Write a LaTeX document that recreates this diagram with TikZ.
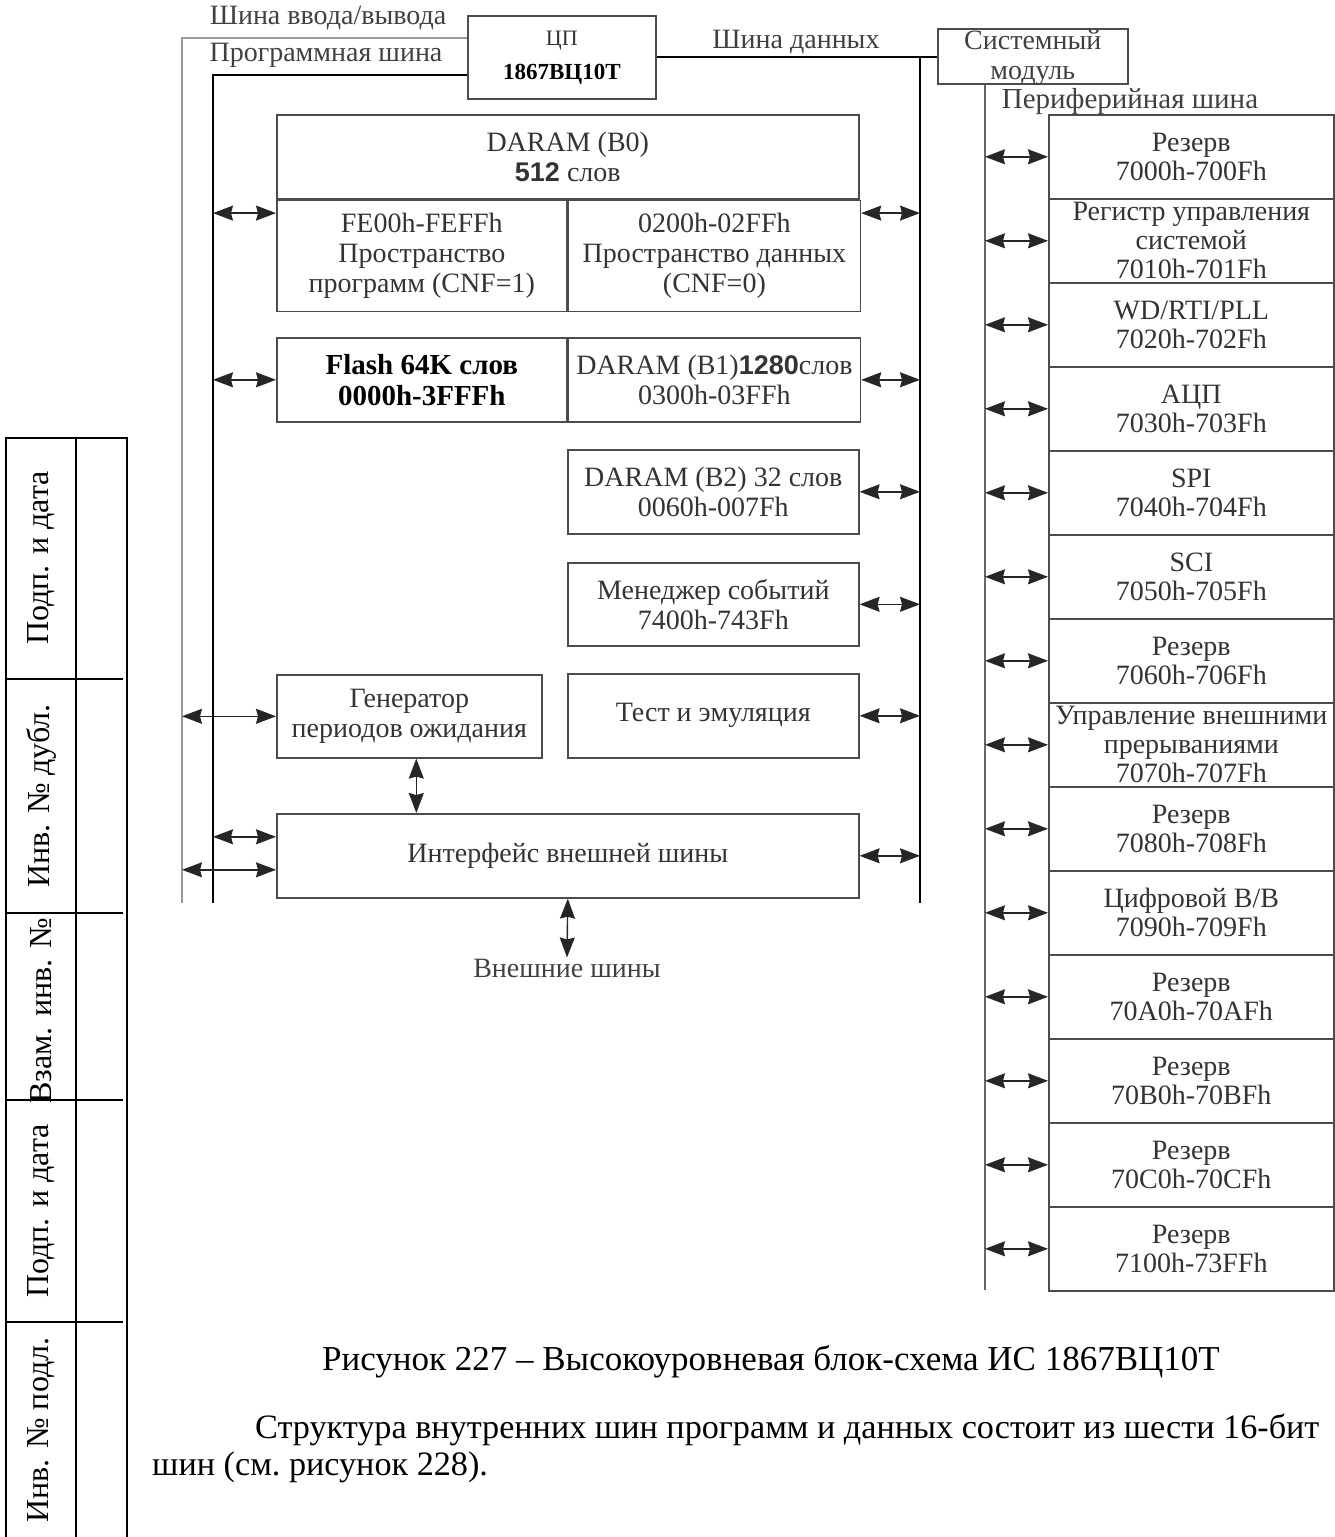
\documentclass[tikz,border=0pt]{standalone}
\usepackage{fontspec}
\setmainfont{Liberation Serif}
\newfontfamily\numfont{Liberation Sans}
\usetikzlibrary{arrows.meta,calc}

\newcommand\dg{\fontsize{28}{30}\selectfont}
\newcommand\wnum[1]{{\numfont\bfseries\fontsize{27}{30}\selectfont #1}}

\tikzset{
  blk/.style={draw=black!70, line width=1.6pt, inner sep=0pt, align=center,
    anchor=north west, font=\dg, text=black!80},
  bidir/.style={{Stealth[length=20pt,width=15pt,inset=2pt]}-{Stealth[length=20pt,width=15pt,inset=2pt]},
    line width=1.4pt, black!85},
  lbl/.style={font=\dg, text=black!75, inner sep=1pt},
  stamp/.style={line width=1.6pt, black},
  side/.style={font=\fontsize{32}{40}\selectfont, rotate=90, inner sep=0pt},
}

\begin{document}
\begin{tikzpicture}[x=1pt, y=-1pt]
  \useasboundingbox (0,0) rectangle (1335,1537);
  % CPU and system module
  \node[blk, minimum width=188pt, minimum height=83pt, font=\fontsize{22}{34}\selectfont]
    (cpu) at (467,15) {ЦП\\{\bfseries\color{black}\fontsize{23}{34}\selectfont 1867ВЦ10Т}};
  \node[blk, minimum width=190pt, minimum height=55pt] (sysmod) at (937,28) {};
  \node[lbl, align=center, inner sep=0pt] (sysmodtxt) at ([yshift=-2pt]sysmod.center)
    {Системный\\модуль};
  % bus names
  \node[lbl] (iolbl)  at (328,18)  {Шина ввода/вывода};
  \node[lbl] (prlbl)  at (326,55)  {Программная шина};
  \node[lbl] (dblbl)  at (796,42)  {Шина данных};
  \node[lbl, font=\fontsize{29}{30}\selectfont] (pblbl) at (1130,102) {Периферийная шина};
  % lower ends of the buses
  \coordinate (io) at (182,903);
  \coordinate (pr) at (213,903);
  \coordinate (db) at (920,903);
  \coordinate (pb) at (985,1290);
  \draw[black!40, line width=1.6pt] (cpu.west |- 0,38) -- (io |- 0,38) -- (io);
  \draw[black, line width=1.6pt] (cpu.west |- 0,75) -- (pr |- 0,75) -- (pr);
  \draw[black, line width=1.6pt] (cpu.east |- 0,57) -- (sysmod.west |- 0,57);
  \draw[black, line width=1.6pt] (db |- 0,57) -- (db);
  \draw[black!60, line width=1.6pt] (pb |- sysmod.south) -- (pb);

  % memory blocks
  \node[blk, minimum width=582pt, minimum height=84pt] (b0) at (276,114)
    {DARAM (B0)\\\wnum{512} слов};
  \node[blk, minimum width=290pt, minimum height=111pt] (b0prog) at (b0.south west)
    {FE00h-FEFFh\\Пространство\\программ (CNF=1)};
  \node[blk, minimum width=292pt, minimum height=111pt] (b0data) at (b0prog.north east)
    {0200h-02FFh\\Пространство данных\\(CNF=0)};
  \coordinate (b0mid) at ($(b0.north west)!0.5!(b0prog.south west)$);
  \node[blk, minimum width=290pt, minimum height=84pt, text=black,
    font=\bfseries\fontsize{29}{31}\selectfont] (flash) at (276,337)
    {Flash 64K слов\\0000h-3FFFh};
  \node[blk, minimum width=292pt, minimum height=84pt] (b1) at (flash.north east)
    {DARAM (B1)\wnum{1280}слов\\0300h-03FFh};
  \node[blk, minimum width=291pt, minimum height=84pt] (b2) at (567,449)
    {DARAM (B2) 32 слов\\0060h-007Fh};
  \node[blk, minimum width=291pt, minimum height=83pt] (evm) at (567,562)
    {Менеджер событий\\7400h-743Fh};
  \node[blk, minimum width=291pt, minimum height=84pt] (test) at (567,673)
    {Тест и эмуляция};
  \node[blk, minimum width=265pt, minimum height=83pt] (gen) at (276,674)
    {Генератор\\периодов ожидания};
  \node[blk, minimum width=582pt, minimum height=84pt] (ext) at (276,813)
    {Интерфейс внешней шины};
  \node[lbl] (extlbl) at (567,968) {Внешние шины};

  % links to program and I/O buses
  \draw[bidir] (pr |- b0mid) -- (b0mid);
  \draw[bidir] (pr |- flash.west) -- (flash.west);
  \draw[bidir] (io |- gen.west) -- (gen.west);
  \coordinate (extup) at ([yshift=19pt]ext.west);
  \coordinate (extlo) at ([yshift=-14pt]ext.west);
  \draw[bidir] (pr |- extup) -- (extup);
  \draw[bidir] (io |- extlo) -- (extlo);
  % links to data bus
  \draw[bidir] (b0mid -| b0data.east) -- (db |- b0mid);
  \foreach \blk in {b1,b2,evm,test,ext}
    \draw[bidir] (\blk.east) -- (db |- \blk.east);
  \draw[bidir] ([xshift=7pt]gen.south) -- ([xshift=7pt]gen.south |- ext.north);
  \draw[bidir] (ext.south) -- (extlbl.north);

  % peripheral registers
  \foreach \txt [count=\i from 0] in {{Резерв\\7000h-700Fh},
      {Регистр управления\\системой\\7010h-701Fh}, {WD/RTI/PLL\\7020h-702Fh},
      {АЦП\\7030h-703Fh}, {SPI\\7040h-704Fh}, {SCI\\7050h-705Fh},
      {Резерв\\7060h-706Fh}, {Управление внешними\\прерываниями\\7070h-707Fh},
      {Резерв\\7080h-708Fh}, {Цифровой В/В\\7090h-709Fh},
      {Резерв\\70A0h-70AFh}, {Резерв\\70B0h-70BFh},
      {Резерв\\70C0h-70CFh}, {Резерв\\7100h-73FFh}} {
    \node[blk, minimum width=285pt, minimum height=84pt, font=\fontsize{28}{29}\selectfont]
      (per\i) at (1048,{114+84*\i}) {\txt};
    \draw[bidir] (pb |- per\i.west) -- (per\i.west);
  }

  % stamp column on the left
  \draw[stamp] (6,1537) -- (6,438) -- (127,438) -- (127,1537);
  \draw[stamp] (76,438) -- (76,1537);
  \foreach \y in {679,913,1100,1322}
    \draw[stamp] (6,\y) -- (123,\y);
  \node[side] (s1) at (41,558)  {Подп. и дата};
  \node[side] (s2) at (41,796)  {Инв. № дубл.};
  \node[side] (s3) at (41,1011) {Взам. инв. №};
  \node[side] (s4) at (41,1211) {Подп. и дата};
  \node[side] (s5) at (41,1430) {Инв. № подл.};

  % caption and text below
  \node[font=\fontsize{35}{40}\selectfont] (cap) at (771,1362)
    {Рисунок 227 – Высокоуровневая блок-схема ИС 1867ВЦ10Т};
  \node[font=\fontsize{34.2}{40}\selectfont, anchor=west, inner sep=0pt] (par1) at (255,1430)
    {Структура внутренних шин программ и данных состоит из шести 16-бит};
  \node[font=\fontsize{34.2}{40}\selectfont, anchor=west, inner sep=0pt] (par2) at (152,1467)
    {шин (см.\ рисунок 228).};
\end{tikzpicture}
\end{document}
